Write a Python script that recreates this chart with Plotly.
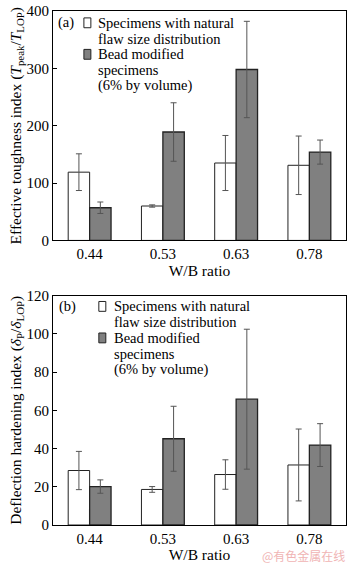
import plotly.graph_objects as go

categories = ["0.44", "0.53", "0.63", "0.78"]

# Panel (a): effective toughness index
tough_natural = [119, 60, 135, 131]
tough_natural_err = [32, 2, 48, 51]
tough_bead = [57, 189, 298, 154]
tough_bead_err = [10, 51, 84, 21]

# Panel (b): deflection hardening index
defl_natural = [28.5, 18.6, 26.4, 31.4]
defl_natural_err = [10, 1.5, 7.7, 18.8]
defl_bead = [20.1, 45.1, 65.8, 41.8]
defl_bead_err = [3.5, 17, 36.6, 11.2]

legend_lines_1 = ["Specimens with natural", "flaw size distribution"]
legend_lines_2 = ["Bead modified", "specimens", "(6% by volume)"]

W, H = 350, 563
ML, MR, MT, MB = 53, 3, 5, 36
PW, PH = W - ML - MR, H - MT - MB

def px_x(x):
    return (x - ML) / PW

def px_y(y):
    return (H - MB - y) / PH

FONT = "Liberation Serif, Times New Roman, serif"
WHITE = "#ffffff"
GRAY = "#808080"
EDGE = "#222222"
ERRC = "#555555"
TICK_SIZE = 15
TITLE_SIZE = 15.5
LEG_SIZE = 14.5
LINE_STEP = 16

fig = go.Figure()

def add_panel(nat, nat_err, bead, bead_err, xa, ya):
    fig.add_trace(go.Bar(
        x=categories, y=nat, xaxis=xa, yaxis=ya, showlegend=False,
        marker=dict(color=WHITE, line=dict(color=EDGE, width=1)),
        error_y=dict(type="data", array=nat_err, visible=True, color=ERRC, thickness=1, width=3),
    ))
    fig.add_trace(go.Bar(
        x=categories, y=bead, xaxis=xa, yaxis=ya, showlegend=False,
        marker=dict(color=GRAY, line=dict(color=EDGE, width=1.3)),
        error_y=dict(type="data", array=bead_err, visible=True, color=ERRC, thickness=1, width=3),
    ))

add_panel(tough_natural, tough_natural_err, tough_bead, tough_bead_err, "x", "y")
add_panel(defl_natural, defl_natural_err, defl_bead, defl_bead_err, "x2", "y2")

dom_a = [px_y(238), 1.0]
dom_b = [0.0, px_y(294)]

axis_common = dict(showline=True, linecolor="#000", linewidth=1, mirror=True,
                   showgrid=False, zeroline=False,
                   tickfont=dict(family=FONT, size=TICK_SIZE, color="#000"))

fig.update_layout(
    width=W, height=H,
    margin=dict(l=ML, r=MR, t=MT, b=MB),
    paper_bgcolor="white", plot_bgcolor="white",
    barmode="group", bargap=0.415, bargroupgap=0,
    font=dict(family=FONT, size=TICK_SIZE, color="#000"),
    xaxis=dict(**axis_common, domain=[0, 1], anchor="y", range=[-0.5, 3.5], ticks="",
               title=dict(text="W/B ratio", font=dict(family=FONT, size=TITLE_SIZE), standoff=2)),
    yaxis=dict(**axis_common, domain=dom_a, anchor="x", range=[0, 400], tickvals=[0, 100, 200, 300, 400],
               ticks="inside", ticklen=4, tickcolor="#000",
               title=dict(text="Effective toughness index (<i>T</i><sub>peak</sub>/<i>T</i><sub>LOP</sub>)",
                          font=dict(family=FONT, size=TITLE_SIZE), standoff=1)),
    xaxis2=dict(**axis_common, domain=[0, 1], anchor="y2", range=[-0.5, 3.5], ticks="",
                title=dict(text="W/B ratio", font=dict(family=FONT, size=TITLE_SIZE), standoff=2)),
    yaxis2=dict(**axis_common, domain=dom_b, anchor="x2", range=[0, 120],
                tickvals=[0, 20, 40, 60, 80, 100, 120],
                ticks="inside", ticklen=4, tickcolor="#000",
                title=dict(text="Deflection hardening index (<i>δ</i><sub>P</sub>/<i>δ</i><sub>LOP</sub>)",
                           font=dict(family=FONT, size=TITLE_SIZE), standoff=1)),
)

shapes = []
annotations = []

def add_legend(label, label_x, y0, sym_x0, sym_x1, text_x):
    annotations.append(dict(text=label, x=px_x(label_x), y=px_y(y0), xref="paper", yref="paper",
                            xanchor="left", yanchor="middle", showarrow=False,
                            font=dict(family=FONT, size=LEG_SIZE)))
    lines = legend_lines_1 + legend_lines_2
    for i, ln in enumerate(lines):
        annotations.append(dict(text=ln, x=px_x(text_x), y=px_y(y0 + LINE_STEP * i), xref="paper", yref="paper",
                                xanchor="left", yanchor="middle", showarrow=False,
                                font=dict(family=FONT, size=LEG_SIZE)))
    for i, col in ((0, WHITE), (2, GRAY)):
        yc = y0 + LINE_STEP * i
        shapes.append(dict(type="rect", xref="paper", yref="paper",
                           x0=px_x(sym_x0), x1=px_x(sym_x1), y0=px_y(yc - 5), y1=px_y(yc + 5),
                           fillcolor=col, line=dict(color=EDGE, width=1)))

add_legend("(a)", 56, 17, 84, 91, 96)
add_legend("(b)", 57, 305, 99, 106, 112)

annotations.append(dict(text="@有色金属在线", x=px_x(348), y=px_y(557.5), xref="paper", yref="paper",
                        xanchor="right", yanchor="middle", showarrow=False,
                        font=dict(family="Noto Sans CJK SC", size=12, color="#f0b4b4")))

fig.update_layout(shapes=shapes, annotations=annotations)

fig.write_html("out.html")
